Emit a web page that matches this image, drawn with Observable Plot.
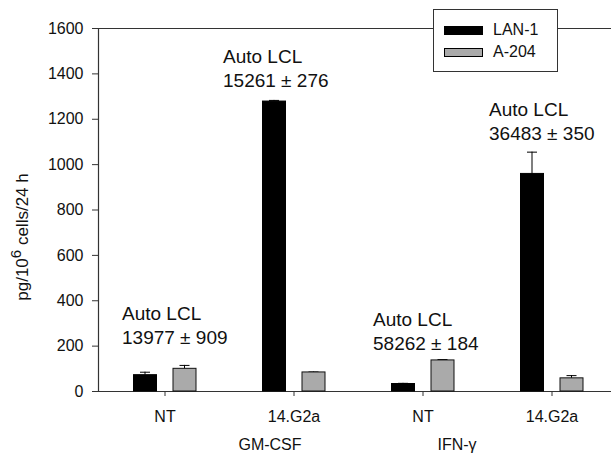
<!DOCTYPE html>
<html><head><meta charset="utf-8">
<script src="https://cdn.jsdelivr.net/npm/d3@7"></script>
<script src="https://cdn.jsdelivr.net/npm/@observablehq/plot@0.6"></script>
<style>
body{margin:0;background:#fff;font-family:Arial,"Liberation Sans",sans-serif;}
#wrap{position:relative;width:611px;height:459px;overflow:hidden;}
#legend{position:absolute;left:433px;top:9px;width:125px;height:63px;border:1px solid #333;background:#fff;box-sizing:border-box;font-size:16px;color:#111;}
#legend .sw{position:absolute;left:10px;width:39px;border:1px solid #000;box-sizing:border-box;}
#legend .lb{position:absolute;left:59px;line-height:18px;}
</style></head>
<body><div id="wrap"></div>
<script>
// ---- data ----
const treatments = ["GM-CSF", "GM-CSF", "IFN-γ", "IFN-γ"];
const conditions = ["NT", "14.G2a", "NT", "14.G2a"];
const series = ["LAN-1", "A-204"];
const lan1 = [72, 1278, 33, 959];
const lan1Err = [13, 5, 3, 96];
const a204 = [100, 84, 137, 58];
const a204Err = [15, 2, 4, 12];
const autoLCL = ["13977 ± 909", "15261 ± 276", "58262 ± 184", "36483 ± 350"];
const yTicks = [0, 200, 400, 600, 800, 1000, 1200, 1400, 1600];

// ---- layout (annotation placement) ----
const noteDx = [-43, -71, -50, -63];
const noteTop = [393, 1526, 366, 1292];

const keys = conditions.map((c, i) => treatments[i] + " " + c);
const rows = keys.map((k, i) => ({
  key: k, lan1: lan1[i], lan1Top: lan1[i] + lan1Err[i],
  a204: a204[i], a204Top: a204[i] + a204Err[i],
  note: "Auto LCL\n" + autoLCL[i], noteTop: noteTop[i], noteDx: noteDx[i]
}));
const font = 'Arial, "Liberation Sans", sans-serif';
const dL = -19.5, dA = 20;

const plot = Plot.plot({
  width: 611, height: 459,
  marginLeft: 98, marginRight: 0, marginTop: 28, marginBottom: 68,
  style: {fontFamily: font, fontSize: "16px", color: "#111", background: "#fff"},
  x: {domain: keys, range: [99.5, 615.5], padding: 0},
  y: {domain: [0, 1600]},
  marks: [
    Plot.ruleY([0, 1600], {stroke: "#333", strokeWidth: 1.2}),
    Plot.frame({anchor: "left", stroke: "#333", strokeWidth: 1.2}),
    Plot.axisY({ticks: yTicks, tickSize: 6, tickPadding: 9, label: null, tickFormat: d => String(d), stroke: "#333"}),
    Plot.axisX({tickSize: 5, tickPadding: 14, label: null, tickFormat: d => d.split(" ")[1], stroke: "#333"}),
    // error stems
    Plot.barY(rows, {x: "key", y1: "lan1", y2: "lan1Top", dx: dL, insetLeft: 64, insetRight: 64, fill: "#000"}),
    Plot.barY(rows, {x: "key", y1: "a204", y2: "a204Top", dx: dA, insetLeft: 64, insetRight: 64, fill: "#000"}),
    Plot.tickY(rows, {x: "key", y: "lan1Top", dx: dL, insetLeft: 59.5, insetRight: 59.5, stroke: "#000"}),
    Plot.tickY(rows, {x: "key", y: "a204Top", dx: dA, insetLeft: 59.5, insetRight: 59.5, stroke: "#000"}),
    // bars
    Plot.barY(rows, {x: "key", y: "lan1", dx: dL, insetLeft: 53, insetRight: 53, fill: "#000", stroke: "#000", strokeWidth: 1}),
    Plot.barY(rows, {x: "key", y: "a204", dx: dA, insetLeft: 53, insetRight: 53, fill: "#aaaaaa", stroke: "#111", strokeWidth: 1}),
    // annotations
    ...rows.map(r => Plot.text([r], {x: "key", y: "noteTop", text: "note", dx: r.noteDx, textAnchor: "start", lineAnchor: "top", lineHeight: 1.28, fontSize: 19, fill: "#111"})),
    // treatment labels
    Plot.text([{key: keys[1], t: treatments[1]}], {x: "key", text: "t", frameAnchor: "bottom", dy: 58, dx: -24, fontSize: 16, fill: "#111"}),
    Plot.text([{key: keys[2], t: treatments[2]}], {x: "key", text: "t", frameAnchor: "bottom", dy: 58, dx: 34, fontSize: 16, fill: "#111"})
  ]
});

const wrap = document.getElementById("wrap");
wrap.appendChild(plot);

// y axis label with superscript
const svg = d3.select(plot);
const yl = svg.append("text")
  .attr("transform", "translate(24,237) rotate(-90)")
  .attr("text-anchor", "middle")
  .attr("dominant-baseline", "middle")
  .attr("fill", "#111")
  .style("font-size", "17px").style("font-family", font);
yl.append("tspan").text("pg/10");
yl.append("tspan").attr("dy", "-7").style("font-size", "15px").text("6");
yl.append("tspan").attr("dy", "7").text(" cells/24 h");

// legend
const lg = document.createElement("div");
lg.id = "legend";
const fills = ["#000", "#aaaaaa"];
const tops = [16, 38];
series.forEach((s, i) => {
  const sw = document.createElement("div");
  sw.className = "sw"; sw.style.top = tops[i] + "px"; sw.style.height = "9px"; sw.style.background = fills[i];
  lg.appendChild(sw);
  const lb = document.createElement("div");
  lb.className = "lb"; lb.style.top = (tops[i] - 5) + "px"; lb.textContent = s;
  lg.appendChild(lb);
});
wrap.appendChild(lg);
</script>
</body></html>
